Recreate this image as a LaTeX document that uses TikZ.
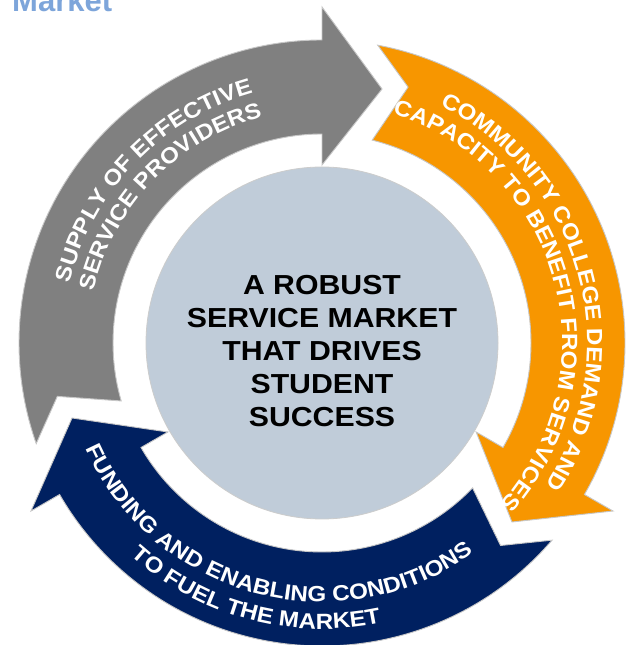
\documentclass[tikz,border=0pt]{standalone}
\usepackage{fontspec}
\setmainfont{Liberation Sans}
\newfontfamily\bandfont{Liberation Sans}[FakeStretch=1.1]
\newfontfamily\hubfont{Liberation Sans}[FakeStretch=1.1]
\usetikzlibrary{decorations.text}
\definecolor{grayarrow}{RGB}{128,128,128}
\definecolor{orangearrow}{RGB}{247,150,0}
\definecolor{navyarrow}{RGB}{0,32,96}
\definecolor{hubfill}{RGB}{192,204,217}
\definecolor{titleblue}{RGB}{125,165,218}
\newcommand\bandfmt{\bandfont\bfseries\fontsize{22}{26}\selectfont\color{white}}
\newcommand\cycarrow[2]{%
  \begin{scope}[rotate=#1]
    \path[arrowshape, fill=#2]
      (199.4:303) arc[start angle=199.4, end angle=90, radius=303]
      -- (90:336) -- (76.7:261) -- (90:178) -- (90:209)
      arc[start angle=90, end angle=196.1, radius=209]
      -- (191.4:270) -- cycle;
  \end{scope}}
\newcommand\arctext[4]{% radius, start, end, text
  \path[decorate, decoration={text along path, text align=center,
      text={|\bandfmt|#4}}]
    (#2:#1) arc[start angle=#2, end angle=#3, radius=#1];}
\tikzset{arrowshape/.style={draw=black!22, line width=0.9pt}}
\begin{document}
\begin{tikzpicture}[x=1pt,y=1pt]
\clip (0,0) rectangle (629,645);
\fill[white] (0,0) rectangle (629,645);
\coordinate (C) at (322,302);
\node[anchor=base west, inner sep=0, text=titleblue,
      font=\bfseries\fontsize{31}{36}\selectfont] (title) at (12,633) {Market};
\begin{scope}[shift={(C)}]
  \cycarrow{0}{grayarrow}
  \cycarrow{-120}{orangearrow}
  \cycarrow{120}{navyarrow}
  % gray texts (clockwise, tops outward)
  \arctext{259}{201}{71}{SUPPLY OF EFFECTIVE}
  \arctext{234}{201}{71}{SERVICE PROVIDERS}
  % orange texts
  \arctext{265}{80.5}{-49.5}{COMMUNITY COLLEGE DEMAND AND}
  \arctext{240}{80.5}{-49.5}{CAPACITY TO BENEFIT FROM SERVICES}
  % navy texts (counter-clockwise, tops inward)
  \arctext{259}{185}{325}{FUNDING AND ENABLING CONDITIONS}
  \arctext{286}{185}{325}{TO FUEL THE MARKET}
\end{scope}
\node[circle, minimum size=352pt, inner sep=0, fill=hubfill,
      draw=black!20, line width=0.8pt] (hub) at (C) {};
\node[align=center, inner sep=0, text=black,
      font=\hubfont\bfseries\fontsize{27.5}{33}\selectfont]
  (hubtext) at ([yshift=-8pt]C) {A ROBUST\\SERVICE MARKET\\THAT DRIVES\\STUDENT\\SUCCESS};
\end{tikzpicture}
\end{document}
